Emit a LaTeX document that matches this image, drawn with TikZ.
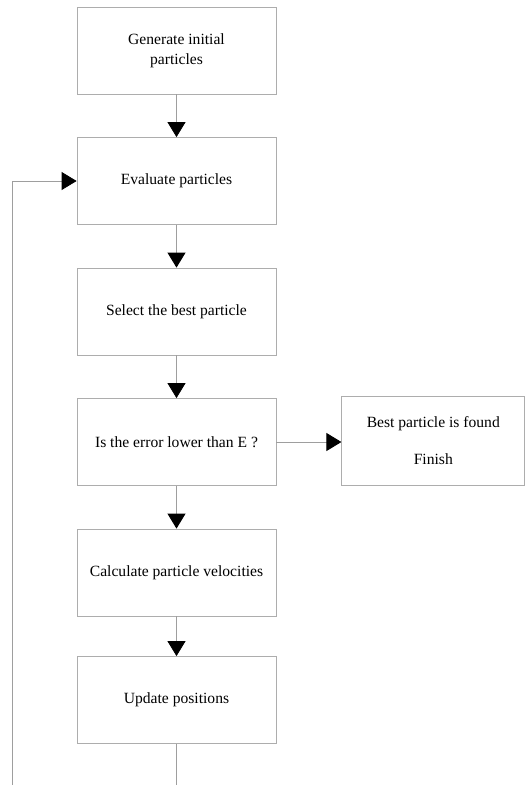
\documentclass[tikz,border=0pt]{standalone}
\usepackage{fontspec}
\setmainfont{Liberation Serif}
\usetikzlibrary{arrows.meta,positioning}
\tikzset{
  stap/.style={draw=black!32,line width=0.8pt,minimum width=199pt,minimum height=87pt,
    inner sep=2pt,align=center,font=\fontsize{15.6}{20.5}\selectfont},
  lijn/.style={draw=black!38,line width=0.8pt},
  pijl/.style={lijn,-{Triangle[length=15pt,width=18pt,color=black]}},
}

\begin{document}
\begin{tikzpicture}[x=1pt,y=-1pt,node distance=42.7pt]
  \useasboundingbox (0,0) rectangle (528,785);
  \node[stap] (gen) at (176.5,50.5) {Generate initial\\particles};
  \node[stap,below=of gen] (eval) {Evaluate particles};
  \node[stap,below=of eval] (best) {Select the best particle};
  \node[stap,below=of best] (test) {Is the error lower than E ?};
  \node[stap,below=of test] (vel) {Calculate particle velocities};
  \node[stap,below=39.7pt of vel] (upd) {Update positions};
  \node[stap,minimum width=183pt,minimum height=89pt,right=65pt of test,yshift=1.5pt] (fin)
    {Best particle is found\\[17pt]Finish};
  \coordinate (onder) at (upd.south |- 0,785);
  \coordinate (links) at (12,785);
  % pijlen
  \draw[pijl] (gen) -- (eval);
  \draw[pijl] (eval) -- (best);
  \draw[pijl] (best) -- (test);
  \draw[pijl] (test) -- (vel);
  \draw[pijl] (vel) -- (upd);
  \draw[pijl] (test) -- (test -| fin.west);
  % terug naar boven
  \draw[lijn] (upd) -- (onder);
  \draw[pijl] (links) |- (eval.west);
\end{tikzpicture}
\end{document}
